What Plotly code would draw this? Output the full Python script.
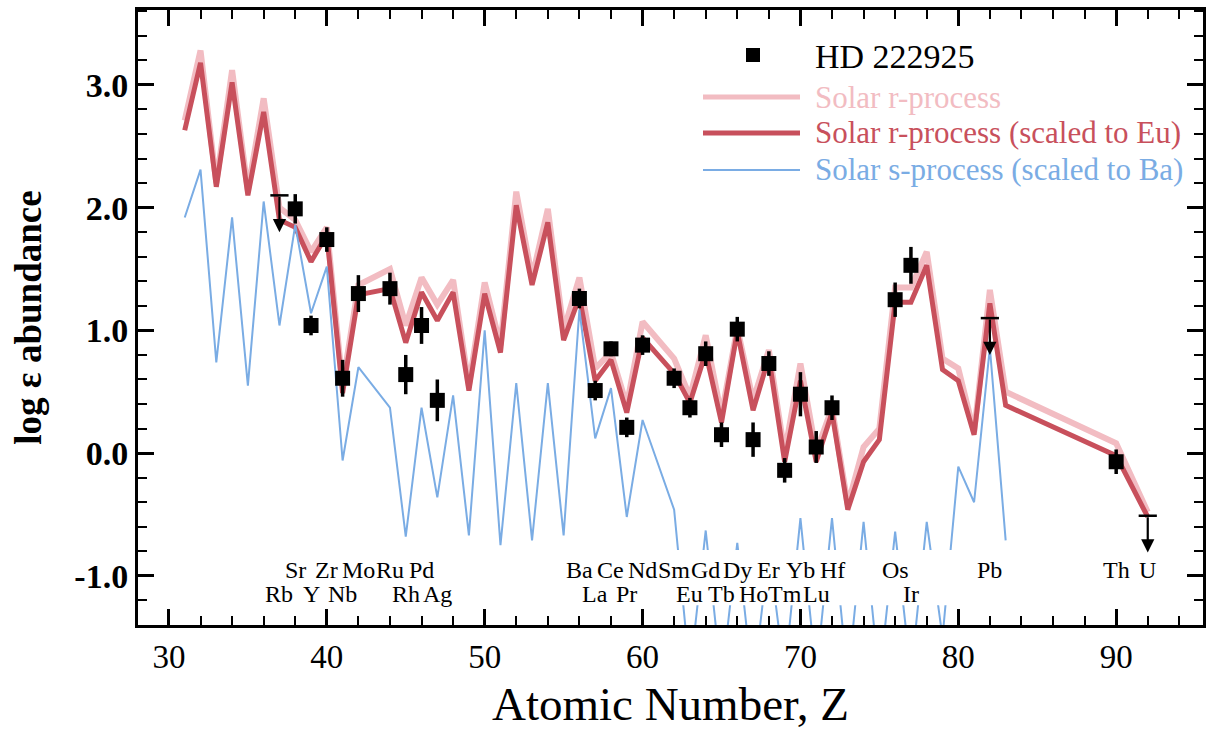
import plotly.graph_objects as go

# ---------------- data ----------------
z_r = [31, 32, 33, 34, 35, 36, 37, 38, 39, 40, 41, 42, 44, 45, 46, 47, 48, 49, 50, 51,
       52, 53, 54, 55, 56, 57, 58, 59, 60, 62, 63, 64, 65, 66, 67, 68, 69, 70, 71, 72,
       73, 74, 75, 76, 77, 78, 79, 80, 81, 82, 83, 90, 92]
r_solar = [2.71, 3.28, 2.20, 3.12, 2.14, 2.89, 2.00, 1.90, 1.64, 1.84, 0.55, 1.37, 1.50, 1.04,
           1.43, 1.21, 1.41, 0.55, 1.39, 0.88, 2.13, 1.43, 1.99, 1.00, 1.43, 0.69, 0.82, 0.39,
           1.07, 0.77, 0.46, 0.96, 0.31, 1.02, 0.43, 0.84, 0.00, 0.73, 0.01, 0.37, -0.42, 0.05,
           0.20, 1.35, 1.35, 1.64, 0.77, 0.69, 0.17, 1.33, 0.50, 0.08, -0.48]
r_scaled = [2.63, 3.18, 2.17, 3.02, 2.10, 2.78, 1.90, 1.84, 1.56, 1.78, 0.49, 1.29, 1.34, 0.90,
            1.31, 1.08, 1.31, 0.51, 1.30, 0.82, 2.02, 1.37, 1.88, 0.92, 1.27, 0.59, 0.76, 0.33,
            0.94, 0.65, 0.41, 0.82, 0.25, 0.99, 0.35, 0.78, -0.07, 0.59, -0.07, 0.33, -0.46, -0.07,
            0.11, 1.23, 1.23, 1.53, 0.68, 0.59, 0.15, 1.22, 0.39, -0.02, -0.52]

z_s = [31, 32, 33, 34, 35, 36, 37, 38, 39, 40, 41, 42, 44, 45, 46, 47, 48, 49, 50, 51,
       52, 53, 54, 55, 56, 57, 58, 59, 60, 62, 63, 64, 65, 66, 67, 68, 69, 70, 71, 72,
       73, 74, 75, 76, 77, 78, 79, 80, 81, 82, 83]
s_scaled = [1.92, 2.31, 0.74, 1.92, 0.55, 2.05, 1.04, 1.86, 1.14, 1.52, -0.06, 0.70, 0.37, -0.68,
            0.37, -0.36, 0.47, -0.67, 1.00, -0.75, 0.57, -0.71, 0.57, -0.67, 1.17, 0.12, 0.53,
            -0.52, 0.27, -0.46, -1.80, -0.63, -1.85, -0.73, -1.90, -0.79, -1.80, -0.53, -1.80,
            -0.53, -1.85, -0.56, -1.85, -0.64, -1.80, -0.56, -1.50, -0.11, -0.40, 0.86, -0.71]

z_obs = [38, 39, 40, 41, 42, 44, 45, 46, 47, 56, 57, 58, 59, 60, 62, 63, 64, 65, 66, 67,
         68, 69, 70, 71, 72, 76, 77, 90]
logeps = [1.99, 1.04, 1.74, 0.61, 1.30, 1.34, 0.64, 1.04, 0.43, 1.26, 0.51, 0.85, 0.21, 0.88,
          0.61, 0.37, 0.81, 0.15, 1.01, 0.11, 0.73, -0.14, 0.48, 0.05, 0.37, 1.25, 1.53, -0.07]
logeps_err = [0.12, 0.08, 0.10, 0.15, 0.15, 0.13, 0.16, 0.15, 0.17, 0.08, 0.08, 0.06, 0.08, 0.08,
              0.08, 0.08, 0.10, 0.10, 0.10, 0.14, 0.10, 0.10, 0.18, 0.13, 0.10, 0.14, 0.15, 0.10]

z_lim = [37, 82, 92]
lim_val = [2.10, 1.10, -0.51]
lim_len = 0.30

elem_z = [37, 38, 39, 40, 41, 42, 44, 45, 46, 47, 56, 57, 58, 59, 60, 62, 63, 64, 65, 66,
          67, 68, 69, 70, 71, 72, 76, 77, 82, 90, 92]
elem_sym = ["Rb", "Sr", "Y", "Zr", "Nb", "Mo", "Ru", "Rh", "Pd", "Ag", "Ba", "La", "Ce", "Pr",
            "Nd", "Sm", "Eu", "Gd", "Tb", "Dy", "Ho", "Er", "Tm", "Yb", "Lu", "Hf", "Os", "Ir",
            "Pb", "Th", "U"]

y_tickvals = [-1.0, 0.0, 1.0, 2.0, 3.0]
y_ticktext = ["-1.0", "0.0", "1.0", "2.0", "3.0"]

# ---------------- style ----------------
SERIF = "Liberation Serif"
PINK = "rgb(242,188,194)"
RED = "rgb(200,80,92)"
BLUE = "rgb(122,172,228)"

W, H = 1207, 732
L, R, T, B = 138, 1203, 10, 625  # plot area in pixels

def px(xp):
    return (xp - L) / (R - L)

def py(yp):
    return (B - yp) / (B - T)

fig = go.Figure()

fig.add_trace(go.Scatter(x=z_r, y=r_solar, mode="lines",
                         line=dict(color=PINK, width=6), showlegend=False))
fig.add_trace(go.Scatter(x=z_r, y=r_scaled, mode="lines",
                         line=dict(color=RED, width=5), showlegend=False))
fig.add_trace(go.Scatter(x=z_s, y=s_scaled, mode="lines",
                         line=dict(color=BLUE, width=2), showlegend=False))
fig.add_trace(go.Scatter(x=z_obs, y=logeps, mode="markers",
                         marker=dict(symbol="square", size=15, color="black"),
                         error_y=dict(type="data", array=logeps_err, visible=True,
                                      color="black", thickness=3.5, width=0),
                         showlegend=False))
fig.add_trace(go.Scatter(x=z_lim, y=lim_val, mode="markers",
                         marker=dict(symbol="line-ew", size=13,
                                     line=dict(color="black", width=2.5)),
                         showlegend=False))

annotations = []
for z, v in zip(z_lim, lim_val):
    annotations.append(dict(x=z, y=v - lim_len, ax=z, ay=v, xref="x", yref="y",
                            axref="x", ayref="y", showarrow=True, arrowhead=2,
                            arrowsize=1.2, arrowwidth=2.2, arrowcolor="black", text=""))

for z, s in zip(elem_z, elem_sym):
    annotations.append(dict(x=z, y=-0.95 if z % 2 == 0 else -1.15, xref="x", yref="y",
                            text=s, showarrow=False, xanchor="center", yanchor="middle",
                            font=dict(family=SERIF, size=24, color="black")))

# white band hiding the s-process dips behind the element labels
shapes = [dict(type="rect", xref="x", yref="y", x0=61.2, x1=80.6, y0=-1.24, y1=-0.79,
               fillcolor="white", line=dict(width=0), layer="above")]

# manual legend
shapes.append(dict(type="rect", xref="paper", yref="paper",
                   x0=px(746), x1=px(760), y0=py(62), y1=py(48),
                   fillcolor="black", line=dict(width=0)))
leg_rows = [(97, PINK, 5, "Solar r-process"),
            (133, RED, 5, "Solar r-process (scaled to Eu)"),
            (170, BLUE, 2, "Solar s-process (scaled to Ba)")]
for yy, col, lw, txt in leg_rows:
    shapes.append(dict(type="line", xref="paper", yref="paper",
                       x0=px(703), x1=px(800), y0=py(yy), y1=py(yy),
                       line=dict(color=col, width=lw)))
    annotations.append(dict(x=px(813), y=py(yy), xref="paper", yref="paper", text=txt,
                            showarrow=False, xanchor="left", yanchor="middle",
                            font=dict(family=SERIF, size=31, color=col)))
annotations.append(dict(x=px(813), y=py(57), xref="paper", yref="paper", text="HD 222925",
                        showarrow=False, xanchor="left", yanchor="middle",
                        font=dict(family=SERIF, size=34, color="black")))

fig.update_layout(
    width=W, height=H,
    margin=dict(l=L, r=W - R, t=T, b=H - B),
    plot_bgcolor="white", paper_bgcolor="white",
    showlegend=False,
    annotations=annotations, shapes=shapes,
    xaxis=dict(range=[28.04, 95.5], tickmode="linear", tick0=30, dtick=10,
               ticks="inside", ticklen=16, tickwidth=2.5, tickcolor="black",
               showline=True, linewidth=3, linecolor="black", mirror="allticks",
               showgrid=False, zeroline=False,
               minor=dict(tickmode="linear", tick0=30, dtick=2, ticks="inside",
                          ticklen=9, tickwidth=2, tickcolor="black", showgrid=False),
               tickfont=dict(family=SERIF, size=33, color="black"),
               title=dict(text="Atomic Number, Z", standoff=14,
                          font=dict(family=SERIF, size=47, color="black")),
               automargin=False),
    yaxis=dict(range=[-1.40, 3.61], tickmode="array", tickvals=y_tickvals, ticktext=y_ticktext,
               ticks="inside", ticklen=16, tickwidth=2.5, tickcolor="black",
               showline=True, linewidth=3, linecolor="black", mirror="allticks",
               showgrid=False, zeroline=False,
               minor=dict(tickmode="linear", tick0=0, dtick=0.2, ticks="inside",
                          ticklen=9, tickwidth=2, tickcolor="black", showgrid=False),
               tickfont=dict(family=SERIF, size=34, color="black", weight="bold"),
               title=dict(text="log ε abundance", standoff=22,
                          font=dict(family=SERIF, size=37, color="black", weight="bold")),
               automargin=False),
)

fig.write_html("out.html")
